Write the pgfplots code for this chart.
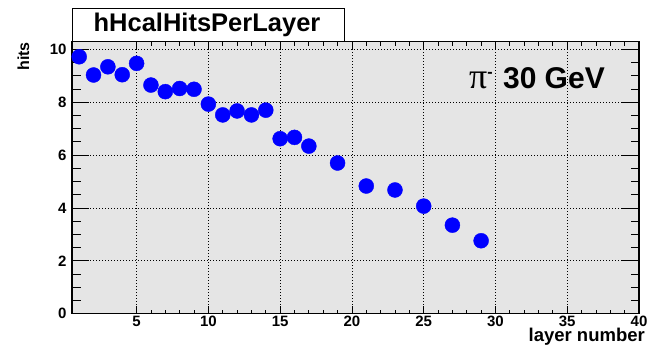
\documentclass[border=0pt]{standalone}
\usepackage{fontspec}
\setmainfont{Liberation Sans}
\newfontfamily\serifgreek{Liberation Serif}
\usepackage{pgfplots}
\pgfplotsset{compat=1.18}
\definecolor{rootblue}{RGB}{0,0,255}
\definecolor{framebg}{RGB}{229,229,229}
\begin{document}
\begin{tikzpicture}[x=1pt,y=1pt]
\path[use as bounding box, fill=white] (0,0) rectangle (647,348);
\begin{axis}[
  at={(72pt,34.3pt)}, anchor=south west,
  scale only axis, width=567pt, height=272pt,
  xmin=0.5, xmax=40, ymin=0, ymax=10.29,
  xtick={5,10,...,40}, ytick={0,2,...,10},
  minor x tick num=4, minor y tick num=3,
  xtick style={/pgfplots/major tick length=8pt,/pgfplots/minor tick length=4pt, black, line width=0.8pt},
  ytick style={/pgfplots/major tick length=17pt,/pgfplots/minor tick length=8.5pt, black, line width=0.8pt},
  axis line style={black, line width=1.2pt},
  axis background/.style={fill=framebg},
  grid=major,
  major grid style={black, line width=0.7pt, dash pattern=on 0.9pt off 2.1pt},
  /pgf/number format/assume math mode=true,
  ticklabel style={font=\bfseries\fontsize{15}{15}\selectfont},
  xticklabel style={yshift=1pt},
  yticklabel style={xshift=-2pt},
]
\addplot[only marks, mark=*, mark size=7.5pt, color=rootblue] coordinates {
(1,9.72) (2,9.03) (3,9.34) (4,9.04) (5,9.47) (6,8.65) (7,8.40) (8,8.52) (9,8.49)
(10,7.93) (11,7.52) (12,7.67) (13,7.52) (14,7.70) (15,6.62) (16,6.67) (17,6.34)
(19,5.70) (21,4.83) (23,4.68) (25,4.07) (27,3.35) (29,2.76)
};
\end{axis}
\draw[black, line width=0.8pt, fill=white] (72,307) rectangle (344,339.7);
\node[anchor=base, font=\bfseries\fontsize{25.5}{25.5}\selectfont, inner sep=0pt] at (207,316) {hHcalHitsPerLayer};
\node[anchor=base east, rotate=90, inner sep=0pt, font=\bfseries\fontsize{16}{16}\selectfont] at (29,306) {hits};
\node[anchor=base east, inner sep=0pt, font=\bfseries\fontsize{18.5}{18.5}\selectfont] at (645,6.5) {layer number};
\node[anchor=base east, inner sep=0pt, font=\bfseries\fontsize{30}{30}\selectfont] at (605,259.7) {{\mdseries\serifgreek\fontsize{36}{36}\selectfont π}\raisebox{11pt}{\fontsize{16}{16}\selectfont -}\hspace{2pt} 30 GeV};
\end{tikzpicture}
\end{document}
